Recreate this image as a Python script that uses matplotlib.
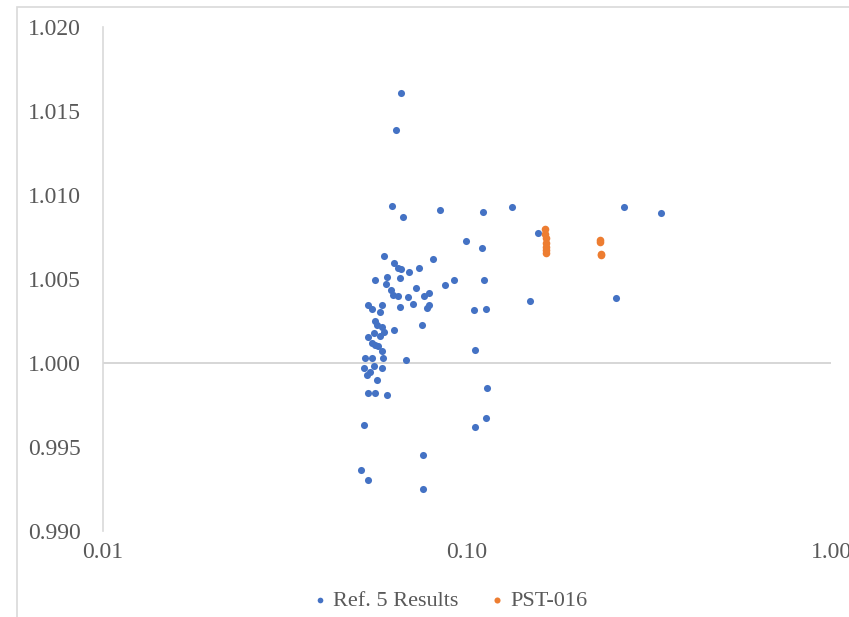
import matplotlib
matplotlib.use("Agg")
import matplotlib.pyplot as plt
from matplotlib.ticker import FixedLocator, FormatStrFormatter, NullLocator
from matplotlib.patches import Rectangle

# values
ref5_x = [0.0659, 0.0637, 0.0623, 0.0666, 0.0845, 0.1109, 0.1329, 0.2695, 0.3405,
          0.0994, 0.1098, 0.1571, 0.0593, 0.0808, 0.0629, 0.0648, 0.0659, 0.0740,
          0.0693, 0.0602, 0.0655, 0.0560, 0.0921, 0.1114, 0.0599, 0.0870, 0.0726,
          0.0618, 0.0627, 0.0646, 0.0689, 0.0760, 0.0785, 0.2567, 0.1489, 0.0536,
          0.0585, 0.0547, 0.0577, 0.0655, 0.0709, 0.0776, 0.0787, 0.1047, 0.1126,
          0.0560, 0.0567, 0.0583, 0.0593, 0.0555, 0.0631, 0.0754, 0.0535, 0.0578,
          0.0548, 0.0558, 0.0568, 0.0585, 0.1052, 0.0524, 0.0547, 0.0587, 0.0681,
          0.0520, 0.0555, 0.0584, 0.0541, 0.0530, 0.0566, 0.1135, 0.0536, 0.0560,
          0.0604, 0.1130, 0.1054, 0.0521, 0.0757, 0.0512, 0.0533, 0.0757]
ref5_y = [1.01607, 1.01389, 1.00932, 1.00868, 1.00910, 1.00900, 1.00930, 1.00926, 1.00890,
          1.00726, 1.00687, 1.00776, 1.00635, 1.00621, 1.00595, 1.00568, 1.00558, 1.00568,
          1.00542, 1.00512, 1.00504, 1.00493, 1.00497, 1.00493, 1.00473, 1.00465, 1.00445,
          1.00433, 1.00402, 1.00396, 1.00393, 1.00398, 1.00417, 1.00386, 1.00372, 1.00344,
          1.00348, 1.00319, 1.00304, 1.00336, 1.00354, 1.00328, 1.00344, 1.00316, 1.00320,
          1.00251, 1.00226, 1.00215, 1.00186, 1.00178, 1.00196, 1.00227, 1.00153, 1.00162,
          1.00117, 1.00107, 1.00099, 1.00071, 1.00079, 1.00030, 1.00031, 1.00030, 1.00016,
          0.99969, 0.99982, 0.99970, 0.99947, 0.99929, 0.99897, 0.99852, 0.99822, 0.99822,
          0.99810, 0.99674, 0.99620, 0.99632, 0.99450, 0.99363, 0.99306, 0.99252]

pst_x = [0.1641, 0.1643, 0.1645, 0.1645, 0.1647, 0.1648, 0.1652,
         0.2320, 0.2322, 0.2330, 0.2334]
pst_y = [1.00795, 1.00770, 1.00742, 1.00716, 1.00690, 1.00671, 1.00655,
         1.00730, 1.00722, 1.00650, 1.00642]

x_ticks = [0.01, 0.1, 1.0]
y_ticks = [0.990, 0.995, 1.000, 1.005, 1.010, 1.015, 1.020]

BLUE = "#4472C4"
ORANGE = "#ED7D31"
GRID = "#D9D9D9"
TXT = "#595959"

plt.rcParams["font.family"] = ["Liberation Serif", "DejaVu Serif"]

W, H = 849, 617
fig = plt.figure(figsize=(W / 100, H / 100), dpi=100)
ax = fig.add_axes([103 / W, 1 - 531 / H, (831 - 103) / W, (531 - 27) / H])

ax.scatter(ref5_x, ref5_y, s=26, color=BLUE, linewidths=0, label="Ref. 5 Results", zorder=3)
ax.scatter(pst_x, pst_y, s=30, color=ORANGE, linewidths=0, label="PST-016", zorder=4)

ax.set_xscale("log")
ax.set_xlim(0.01, 1.0)
ax.set_ylim(0.990, 1.020)
ax.xaxis.set_major_locator(FixedLocator(x_ticks))
ax.xaxis.set_minor_locator(NullLocator())
ax.xaxis.set_major_formatter(FormatStrFormatter("%.2f"))
ax.yaxis.set_major_locator(FixedLocator(y_ticks))
ax.yaxis.set_major_formatter(FormatStrFormatter("%.3f"))

# horizontal axis crosses at 1.000, labels stay at the bottom (Excel style)
ax.axhline(1.0, color="#CFCFCF", lw=1.2, zorder=1)
for side in ("top", "right", "bottom"):
    ax.spines[side].set_visible(False)
ax.spines["left"].set_color(GRID)
ax.spines["left"].set_linewidth(1.2)

ax.tick_params(axis="both", length=0, labelsize=17, labelcolor=TXT)
ax.tick_params(axis="y", pad=16)
ax.tick_params(axis="x", pad=8)

fig.legend(loc="center", bbox_to_anchor=(448 / W, 1 - 601 / H), ncol=2,
           frameon=False, fontsize=16, labelcolor=TXT, markerscale=0.8,
           handletextpad=0.1, columnspacing=1.2, handlelength=1.0)

# chart frame
fig.patches.append(Rectangle((17 / W, -0.1), 1.2, 1 - 7 / H + 0.1,
                             transform=fig.transFigure, fill=False,
                             edgecolor=GRID, lw=1.2))

fig.savefig("out.png", dpi=100)
